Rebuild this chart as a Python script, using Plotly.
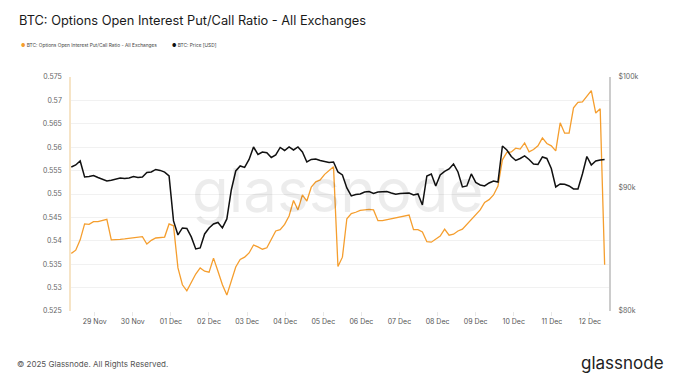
import pandas as pd
import numpy as np
import plotly.graph_objects as go

# ---- data (~2.8h sampling, 28 Nov 09:15 -> 12 Dec 09:15, 2025) ----
start_time = "2025-11-28 09:15"
end_time = "2025-12-12 09:15"

put_call_ratio = [
    0.5373, 0.5380, 0.5402, 0.5436, 0.5435, 0.5441, 0.5441, 0.5443, 0.5446, 0.5402,
    0.5402, 0.5403, 0.5404, 0.5405, 0.5406, 0.5407, 0.5409, 0.5393, 0.5401, 0.5406,
    0.5407, 0.5408, 0.5436, 0.5432, 0.5342, 0.5306, 0.5293, 0.5312, 0.5329, 0.5342,
    0.5335, 0.5333, 0.5363, 0.5335, 0.5306, 0.5284, 0.5312, 0.5344, 0.5360, 0.5365,
    0.5374, 0.5391, 0.5387, 0.5382, 0.5385, 0.5402, 0.5421, 0.5424, 0.5435, 0.5453,
    0.5486, 0.5466, 0.5498, 0.5485, 0.5515, 0.5526, 0.5530, 0.5542, 0.5550, 0.5558,
    0.5345, 0.5365, 0.5447, 0.5458, 0.5461, 0.5465, 0.5466, 0.5467, 0.5466, 0.5443,
    0.5443, 0.5445, 0.5447, 0.5449, 0.5451, 0.5453, 0.5455, 0.5424, 0.5424, 0.5419,
    0.5398, 0.5397, 0.5403, 0.5410, 0.5425, 0.5412, 0.5414, 0.5421, 0.5425, 0.5435,
    0.5447, 0.5455, 0.5466, 0.5482, 0.5488, 0.5498, 0.5517, 0.5573, 0.5589, 0.5590,
    0.5598, 0.5596, 0.5609, 0.5590, 0.5595, 0.5603, 0.5620, 0.5608, 0.5603, 0.5592,
    0.5652, 0.5630, 0.5630, 0.5684, 0.5696, 0.5697, 0.5709, 0.5721, 0.5673, 0.5682,
    0.5349,
]

btc_price = [
    91779, 91954, 92305, 90909, 90951, 91038, 90864, 90735, 90562, 90622,
    90735, 90822, 90778, 90822, 90951, 90864, 90909, 91302, 91346, 91564,
    91477, 91328, 90995, 87174, 86021, 86595, 86554, 85855, 84879, 84960,
    86101, 86595, 86926, 87051, 86595, 87340, 89788, 91429, 91866, 91735,
    92437, 93543, 92878, 93098, 93027, 92613, 92834, 93499, 93232, 93543,
    93277, 93543, 93098, 92217, 92437, 92481, 92349, 92261, 92173, 92217,
    91342, 91081, 89959, 89276, 89404, 89446, 89617, 89660, 89489, 89617,
    89660, 89660, 89532, 89421, 89489, 89532, 89532, 89361, 89446, 88514,
    90995, 91168, 90131, 91081, 91386, 91603, 92042, 91342, 90045, 90131,
    91168, 90432, 90217, 90131, 90389, 90562, 90475, 93634, 93277, 92701,
    92349, 92525, 92746, 92437, 92042, 91998, 92657, 92525, 91648, 90045,
    90303, 90277, 90131, 89874, 89874, 91168, 92701, 91954, 92305, 92393,
    92437,
]

ratio_ticks = [0.525, 0.53, 0.535, 0.54, 0.545, 0.55, 0.555, 0.56, 0.565, 0.57, 0.575]
ratio_tick_labels = ["0.525", "0.53", "0.535", "0.54", "0.545", "0.55", "0.555",
                     "0.56", "0.565", "0.57", "0.575"]
price_ticks = [80000, 90000, 100000]
price_tick_labels = ["$80k", "$90k", "$100k"]

times = pd.date_range(start_time, end_time, periods=len(put_call_ratio))

ORANGE = "#F59E2E"
BLACK = "#111111"
FONT = "Inter"

fig = go.Figure()
fig.add_trace(go.Scatter(
    x=times, y=put_call_ratio, mode="lines", name="BTC: Options Open Interest Put/Call Ratio - All Exchanges",
    line=dict(color=ORANGE, width=1.3), yaxis="y", showlegend=False,
))
fig.add_trace(go.Scatter(
    x=times, y=btc_price, mode="lines", name="BTC: Price [USD]",
    line=dict(color=BLACK, width=1.5), yaxis="y2", showlegend=False,
))

L, R, T, B = 71, 71, 77, 72
W, H = 680, 383
pw, ph = W - L - R, H - T - B

def px(x):
    return (x - L) / pw

def py(y):
    return (H - B - y) / ph

annotations = [
    dict(text="glassnode", x=px(338), y=py(190), xref="paper", yref="paper",
         xanchor="center", yanchor="middle", showarrow=False,
         font=dict(family=FONT, size=60, color="rgba(0,0,0,0.075)")),
    dict(text="BTC: Options Open Interest Put/Call Ratio - All Exchanges",
         x=px(17), y=py(21), xref="paper", yref="paper", xanchor="left", yanchor="middle",
         showarrow=False, font=dict(family=FONT, size=12.8, color="#1a1a1a")),
    dict(text=f'<span style="color:{ORANGE}">●</span> BTC: Options Open Interest Put/Call Ratio - All Exchanges',
         x=px(19), y=py(45), xref="paper", yref="paper", xanchor="left", yanchor="middle",
         showarrow=False, font=dict(family=FONT, size=4.8, color="#444")),
    dict(text=f'<span style="color:{BLACK}">●</span> BTC: Price [USD]',
         x=px(170), y=py(45), xref="paper", yref="paper", xanchor="left", yanchor="middle",
         showarrow=False, font=dict(family=FONT, size=4.8, color="#444")),
    dict(text="© 2025 Glassnode. All Rights Reserved.",
         x=px(15), y=py(364), xref="paper", yref="paper", xanchor="left", yanchor="middle",
         showarrow=False, font=dict(family=FONT, size=8, color="#555")),
    dict(text="glassnode",
         x=px(666), y=py(363), xref="paper", yref="paper", xanchor="right", yanchor="middle",
         showarrow=False, font=dict(family=FONT, size=17, color="#222")),
]

fig.update_layout(
    width=W, height=H,
    margin=dict(l=L, r=R, t=T, b=B, pad=0),
    paper_bgcolor="white", plot_bgcolor="white",
    font=dict(family=FONT, size=7, color="#666"),
    showlegend=False,
    annotations=annotations,
    xaxis=dict(
        type="date",
        range=["2025-11-28 09:04", "2025-12-12 12:00"],
        tick0="2025-11-29", dtick=86400000, tickformat="%d %b",
        ticks="outside", ticklen=4, tickcolor="#e8e8e8", tickwidth=1,
        showgrid=False, showline=False, zeroline=False,
        tickfont=dict(family=FONT, size=7, color="#555"),
    ),
    yaxis=dict(
        range=[0.525, 0.575], tickvals=ratio_ticks, ticktext=ratio_tick_labels,
        showgrid=True, gridcolor="#f1f1f1", gridwidth=1,
        showline=True, linecolor="#f6e4c6", linewidth=1.5,
        zeroline=False, ticks="", ticklabelstandoff=6,
        tickfont=dict(family=FONT, size=7, color="#666"),
    ),
    yaxis2=dict(
        type="log", overlaying="y", side="right",
        range=[np.log10(80000), np.log10(100000)],
        tickvals=price_ticks, ticktext=price_tick_labels,
        showgrid=False, showline=True, linecolor="#cccccc", linewidth=2,
        zeroline=False, ticks="", ticklabelstandoff=6,
        tickfont=dict(family=FONT, size=7, color="#666"),
    ),
)

fig.write_html("out.html", config={"displayModeBar": False},
               post_script="document.body.style.margin='0';document.body.style.padding='0';")
